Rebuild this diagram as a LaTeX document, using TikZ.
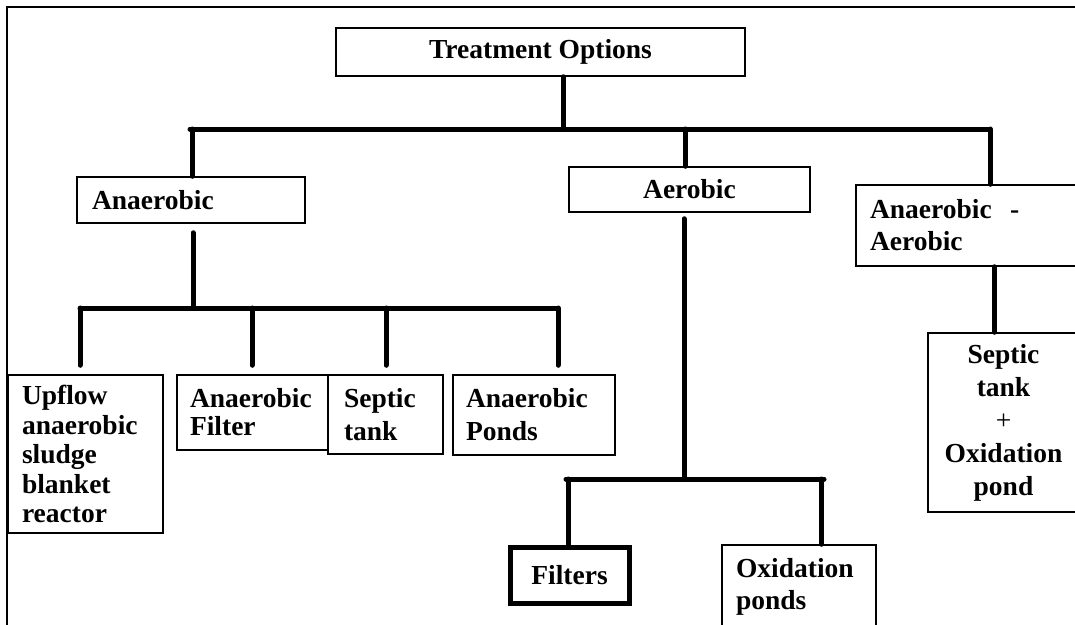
\documentclass[tikz,border=0pt]{standalone}
\usepackage{fontspec}
\setmainfont{Liberation Serif}
\begin{document}
\begin{tikzpicture}[x=1pt,y=-1pt,
  box/.style={draw, line width=1.5pt, inner xsep=0pt, inner ysep=0pt,
    font=\fontsize{27.5}{30}\selectfont\bfseries},
  conn/.style={line width=5pt, line cap=round, line join=round},
  frameline/.style={line width=2pt}]
\useasboundingbox (0,0) rectangle (1075,624);
\clip (0,0) rectangle (1075,624);
\fill[white] (0,0) rectangle (1075,624);
\draw[frameline] (7,640) -- (7,7) -- (1090,7);

% nodes
\node[box, minimum width=409pt, minimum height=48pt] (T) at (540.5,52) {Treatment Options};
\node[box, minimum width=228pt, minimum height=46pt, text width=198pt, align=left] (An) at (191,200) {Anaerobic};
\node[box, minimum width=241pt, minimum height=45pt] (Ae) at (689.5,189.5) {Aerobic};
\node[box, minimum width=223pt, minimum height=81pt, text width=195pt, align=left,
  font=\fontsize{27.5}{32}\selectfont\bfseries] (AA) at (967.5,225.5) {Anaerobic\ \ -\\Aerobic};
\node[box, minimum width=155pt, minimum height=158pt, text width=127pt, align=left,
  font=\fontsize{27.5}{29.5}\selectfont\bfseries] (Up) at (85.5,454) {Upflow\\anaerobic\\sludge\\blanket\\reactor};
\node[box, minimum width=151pt, minimum height=75pt, text width=125pt, align=left,
  font=\fontsize{27.5}{28}\selectfont\bfseries] (Fi) at (252.5,412.5) {Anaerobic\\Filter};
\node[box, minimum width=115pt, minimum height=79pt, text width=83pt, align=left,
  font=\fontsize{27.5}{33}\selectfont\bfseries] (Se) at (385.5,414.5) {Septic\\tank};
\node[box, minimum width=162pt, minimum height=80pt, text width=136pt, align=left,
  font=\fontsize{27.5}{33}\selectfont\bfseries] (Po) at (534,415) {Anaerobic\\Ponds};
\node[box, line width=5pt, minimum width=119pt, minimum height=56pt] (Fl) at (569.5,575) {Filters};
\node[box, minimum width=154pt, minimum height=83pt, text width=126pt, align=left,
  font=\fontsize{27.5}{32}\selectfont\bfseries] (Ox) at (799,586.5) {Oxidation\\ponds};
\node[box, minimum width=151pt, minimum height=179pt, text width=140pt, align=center,
  font=\fontsize{27.5}{33}\selectfont\bfseries] (STO) at (1003.5,422.5) {Septic\\tank\\{\mdseries +}\\Oxidation\\pond};

% top level
\coordinate (tbL) at (190,129);
\coordinate (tbR) at (990,129);
\coordinate (d1) at (192,129);
\coordinate (d2) at (685,129);
\coordinate (d3) at (990,129);
\coordinate (ts) at (563,129);
\draw[conn] (ts |- T.south) -- (ts);
\draw[conn] (tbL) -- (tbR);
\draw[conn] (d1) -- (d1 |- An.north);
\draw[conn] (d2) -- (d2 |- Ae.north);
\draw[conn] (d3) -- (d3 |- AA.north);

% anaerobic branch
\coordinate (s1) at (193,308);
\coordinate (abL) at (80,308);
\coordinate (abR) at (558,308);
\coordinate (e2) at (252,308);
\coordinate (e3) at (386,308);
\draw[conn, shorten <=9pt] (s1 |- An.south) -- (s1);
\draw[conn] (abL) -- (abR);
\draw[conn, shorten >=9pt] (abL) -- (abL |- Up.north);
\draw[conn, shorten >=9pt] (e2) -- (e2 |- Fi.north);
\draw[conn, shorten >=9pt] (e3) -- (e3 |- Se.north);
\draw[conn, shorten >=9pt] (abR) -- (abR |- Po.north);

% aerobic branch
\coordinate (s2) at (684,479);
\coordinate (bbL) at (566,479);
\coordinate (bbR) at (824,479);
\coordinate (f1) at (568,479);
\coordinate (f2) at (821,479);
\draw[conn, shorten <=6pt] (s2 |- Ae.south) -- (s2);
\draw[conn] (bbL) -- (bbR);
\draw[conn] (f1) -- (f1 |- Fl.north);
\draw[conn] (f2) -- (f2 |- Ox.north);

% anaerobic-aerobic branch
\coordinate (g1) at (994,300);
\draw[conn] (g1 |- AA.south) -- (g1 |- STO.north);
\end{tikzpicture}
\end{document}
